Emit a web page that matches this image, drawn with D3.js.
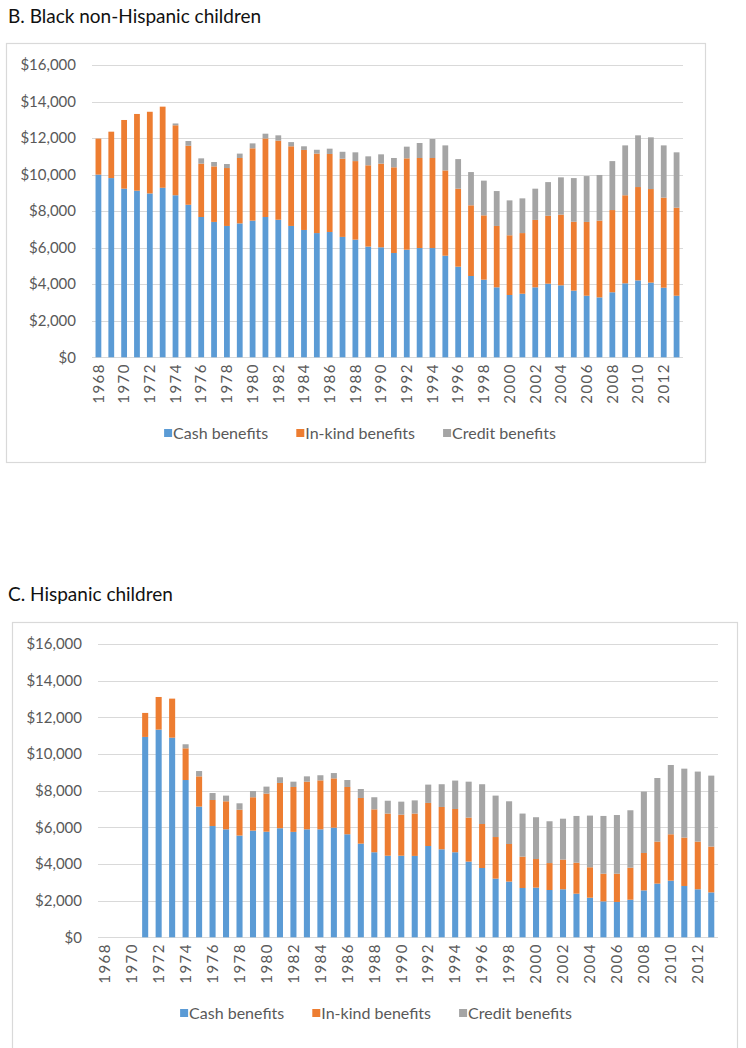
<!DOCTYPE html>
<html><head><meta charset="utf-8">
<script src="https://cdn.jsdelivr.net/npm/d3@7"></script>
<style>body{margin:0;background:#fff}svg{display:block}text{font-family:Lato,"Open Sans",sans-serif}</style>
</head><body><svg id="c" width="746" height="1048"></svg>
<script>
const years = d3.range(1968, 2014);
const seriesNames = ["Cash benefits", "In-kind benefits", "Credit benefits"];
const yTicks = [0,2000,4000,6000,8000,10000,12000,14000,16000];
const xTickYears = d3.range(1968, 2013, 2);

// Panel B: Black non-Hispanic children
const blackCash = [10000,9810,9230,9120,8970,9280,8870,8350,7680,7410,7190,7330,7480,7680,7530,7190,6970,6800,6860,6590,6440,6060,6020,5710,5890,5980,5980,5560,4960,4450,4250,3830,3410,3480,3830,4030,3940,3650,3370,3280,3560,4050,4210,4090,3810,3370];
const blackInKind = [1970,2540,3760,4200,4470,4440,3830,3230,2920,3040,3170,3580,3960,4300,4330,4360,4380,4350,4270,4280,4300,4450,4580,4690,5000,4930,4930,4670,4270,3870,3520,3360,3270,3320,3690,3720,3870,3770,4040,4200,4500,4820,5110,5120,4930,4820];
const blackCredit = [0,0,0,0,0,0,100,260,290,240,220,240,270,260,290,230,200,210,290,380,480,490,510,510,640,820,1040,1370,1620,1820,1900,1910,1910,1900,1710,1840,2040,2390,2510,2500,2680,2730,2830,2830,2860,3030];

// Panel C: Hispanic children (no data 1968-1970)
const hispCash = [0,0,0,10930,11330,10890,8580,7130,6070,5890,5550,5820,5760,5950,5750,5890,5890,5980,5620,5110,4640,4450,4450,4440,4980,4800,4640,4130,3780,3200,3040,2690,2710,2580,2620,2380,2160,1960,1930,2050,2560,2930,3090,2800,2620,2450];
const hispInKind = [0,0,0,1310,1780,2130,1730,1650,1420,1530,1410,1820,2080,2470,2450,2600,2670,2690,2580,2490,2340,2300,2240,2310,2350,2310,2360,2400,2400,2270,2050,1710,1560,1470,1620,1690,1660,1510,1540,1750,2040,2290,2530,2640,2600,2500];
const hispCredit = [0,0,0,0,0,0,220,290,380,310,350,340,380,310,290,290,280,290,380,490,660,700,710,720,1000,1240,1550,1960,2170,2260,2330,2350,2280,2280,2230,2550,2820,3150,3200,3130,3350,3470,3780,3760,3820,3870];

const colors = ["#5B9BD5", "#ED7D31", "#A5A5A5"];
const svg = d3.select("#c");
svg.append("rect").attr("width",746).attr("height",1048).attr("fill","#fff");

function panel(o, cash, inkind, credit) {
  const g = svg.append("g");
  g.append("text").attr("x", o.titleX).attr("y", o.titleY).attr("font-size", 19).attr("fill", "#111").text(o.title);
  g.append("rect").attr("x", o.box[0]+0.5).attr("y", o.box[1]+0.5).attr("width", o.box[2]).attr("height", o.box[3])
    .attr("fill","none").attr("stroke","#D9D9D9").attr("stroke-width",1.2);
  const x = d3.scaleBand().domain(years).range([o.x0, o.x1]).paddingInner(0.55).paddingOuter(0.275);
  const y = d3.scaleLinear().domain([0,16000]).range([o.yBottom, o.yTop]);
  g.append("g").selectAll("line").data(yTicks).join("line")
    .attr("x1", o.x0).attr("x2", o.x1)
    .attr("y1", d => Math.round(y(d))+0.5).attr("y2", d => Math.round(y(d))+0.5)
    .attr("stroke", "#D9D9D9").attr("stroke-width", 1);
  g.append("g").selectAll("text").data(yTicks).join("text")
    .attr("x", o.yLabelX).attr("y", d => y(d)).attr("dy","0.35em").attr("text-anchor","end")
    .attr("font-size", 15).attr("fill","#595959").text(d => d3.format("$,")(d));
  const rows = years.map((yr,i) => ({year: yr, c: cash[i], k: inkind[i], r: credit[i]}));
  const stack = d3.stack().keys(["c","k","r"])(rows);
  stack.forEach((layer, li) => {
    g.append("g").selectAll("rect").data(layer.filter(d => d[1] > d[0])).join("rect")
      .attr("x", d => x(d.data.year)).attr("width", x.bandwidth())
      .attr("y", d => y(d[1])).attr("height", d => y(d[0]) - y(d[1]))
      .attr("fill", colors[li]);
  });
  g.append("g").selectAll("text").data(xTickYears).join("text")
    .attr("transform", d => `translate(${x(d)+x.bandwidth()/2},${o.xLabelY}) rotate(-90)`)
    .attr("dy","0.35em").attr("text-anchor","end").attr("font-size", 15)
    .attr("letter-spacing", "1.5px").attr("fill","#595959").text(d => d);
  const leg = g.append("g");
  const items = leg.selectAll("g").data(seriesNames).join("g");
  items.append("rect").attr("width",8).attr("height",8).attr("y",-4).attr("fill",(d,i)=>colors[i]);
  items.append("text").attr("x",9).attr("dy","0.35em").attr("font-size",16).attr("fill","#595959").text(d=>d);
  let pos = 0; const gap = 28; const xs = [];
  items.each(function(){ xs.push(pos); pos += this.getBBox().width + gap; });
  const total = pos - gap;
  items.attr("transform", (d,i) => `translate(${xs[i]},0)`);
  leg.attr("transform", `translate(${o.legendCX - total/2},${o.legendY})`);
}

panel({title:"B. Black non-Hispanic children", titleX:8, titleY:23, box:[6,43,699,419],
  x0:92, x1:683, yTop:65, yBottom:357.3, yLabelX:76, xLabelY:363, legendCX:360, legendY:433},
  blackCash, blackInKind, blackCredit);
panel({title:"C. Hispanic children", titleX:8, titleY:601, box:[12,622,725,440],
  x0:98, x1:718, yTop:644, yBottom:937.3, yLabelX:82, xLabelY:943, legendCX:376, legendY:1013},
  hispCash, hispInKind, hispCredit);
</script></body></html>
